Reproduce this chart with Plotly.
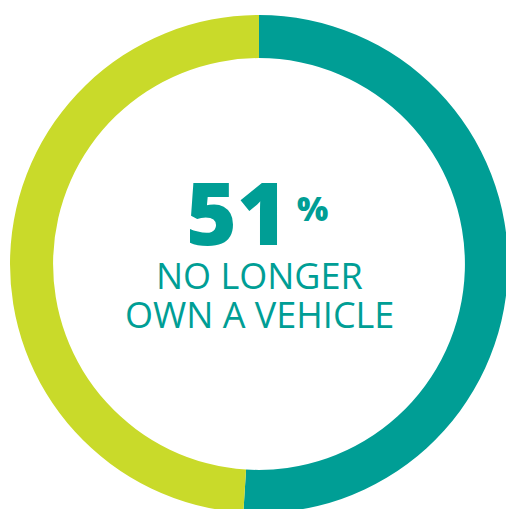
import plotly.graph_objects as go

labels = ["No longer own a vehicle", "Still own a vehicle"]
values = [51, 49]
colors = ["#009E95", "#C9DA2A"]

headline_value = "51"
headline_unit = "%"
caption_lines = ["NO LONGER", "OWN A VEHICLE"]

W, H = 518, 528
TEAL = "#009E95"

def px(x):
    return x / W

def py(y):
    return 1 - y / H

fig = go.Figure(go.Pie(
    labels=labels,
    values=values,
    marker=dict(colors=colors, line=dict(width=0)),
    hole=0.827,
    sort=False,
    direction="clockwise",
    rotation=0,
    textinfo="none",
    hoverinfo="none",
    showlegend=False,
    domain=dict(x=[10 / W, 508 / W], y=[1 - 513 / H, 1 - 15 / H]),
))

fig.add_annotation(x=px(237), y=py(211), xref="paper", yref="paper",
                   text=headline_value, showarrow=False,
                   xanchor="center", yanchor="middle",
                   font=dict(family="Open Sans", size=87, weight=800, color=TEAL))
fig.add_annotation(x=px(312), y=py(209), xref="paper", yref="paper",
                   text=headline_unit, showarrow=False,
                   xanchor="center", yanchor="middle",
                   font=dict(family="Open Sans", size=33, weight=800, color=TEAL))
for line, yc in zip(caption_lines, [275, 314]):
    fig.add_annotation(x=px(259), y=py(yc), xref="paper", yref="paper",
                       text=line, showarrow=False,
                       xanchor="center", yanchor="middle",
                       font=dict(family="Open Sans", size=36, color=TEAL))

fig.update_layout(
    width=W, height=H, autosize=False,
    margin=dict(l=0, r=0, t=0, b=0),
    paper_bgcolor="white", plot_bgcolor="white",
)

fig.write_html("out.html", config={"displayModeBar": False},
               post_script="document.body.style.margin='0';document.body.style.overflow='hidden';document.documentElement.style.overflow='hidden';")
